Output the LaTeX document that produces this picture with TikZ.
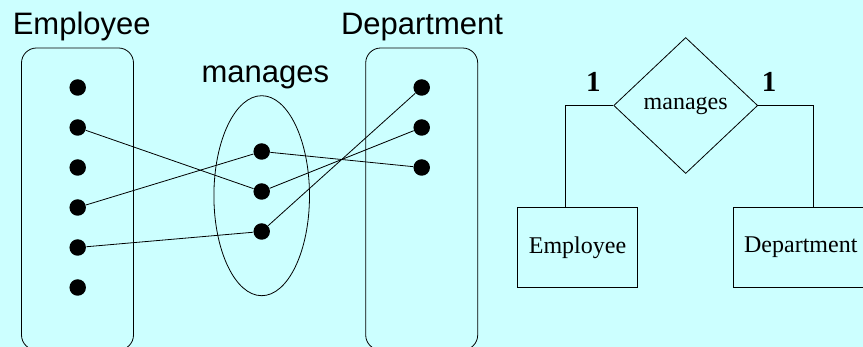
\documentclass[tikz,border=0pt]{standalone}
\usepackage{fontspec}
\setmainfont{Liberation Serif}
\newfontfamily\arialfont{Liberation Sans}
\usetikzlibrary{shapes.geometric}
\definecolor{bgcyan}{RGB}{204,255,255}

\begin{document}
\begin{tikzpicture}[x=1pt, y=-1pt, line width=0.8pt,
  elem/.style={circle, fill, inner sep=0pt, minimum size=16.5pt},
  setbox/.style={draw, rectangle, rounded corners=15pt, minimum width=112pt, minimum height=302pt},
  settitle/.style={anchor=base, font=\arialfont\fontsize{31}{36}\selectfont},
  entity/.style={draw, rectangle, minimum width=120pt, minimum height=80pt, font=\fontsize{24}{28}\selectfont},
  card/.style={font=\bfseries\fontsize{29}{32}\selectfont, inner sep=0pt}]

  \fill [bgcyan] (0,0) rectangle (863,347);
  \useasboundingbox (0,0) rectangle (863,347);

  % the two sets and the relationship set
  \node [setbox] (emps) at (77.5,199) {};
  \node [setbox] (depts) at (421.7,199) {};
  \node [draw, ellipse, minimum width=95.6pt, minimum height=200pt] (rel) at (261.7,195.7) {};
  \node [settitle] (empt) at (81.7,35) {Employee};
  \node [settitle] (deptt) at (422,35) {Department};
  \node [settitle] (relt) at (265.3,83) {manages};

  \node [elem] (e1) at (77.7,87.5) {};
  \node [elem] (e2) at (77.7,127.5) {};
  \node [elem] (e3) at (77.7,167.5) {};
  \node [elem] (e4) at (77.7,207.5) {};
  \node [elem] (e5) at (77.7,247.5) {};
  \node [elem] (e6) at (77.7,287.5) {};
  \node [elem] (m1) at (261.7,151.5) {};
  \node [elem] (m2) at (261.7,191.5) {};
  \node [elem] (m3) at (261.7,231.5) {};
  \node [elem] (d1) at (421.7,87.5) {};
  \node [elem] (d2) at (421.7,127.5) {};
  \node [elem] (d3) at (421.7,167.5) {};

  \path (e2) edge (m2)
        (e4) edge (m1)
        (e5) edge (m3)
        (m1) edge (d3)
        (m2) edge (d2)
        (m3) edge (d1);

  % E-R diagram
  \node [draw, diamond, minimum width=144pt, minimum height=136pt, inner sep=0pt,
         font=\fontsize{24}{28}\selectfont] (dia) at (685.7,105.5) {manages};
  \node [entity] (ement) at (577.5,247.3) {Employee};
  \node [entity, minimum width=135pt] (dent) at (800.8,247.3) {Department};
  \coordinate (lturn) at (565.7,105.5);
  \coordinate (rturn) at (813,105.5);

  \draw (dia.west) -- node [card, pos=0.42, above=14pt] {1} (lturn) -- (lturn |- ement.north);
  \draw (dia.east) -- node [card, pos=0.2, above=14pt] {1} (rturn) -- (rturn |- dent.north);
\end{tikzpicture}
\end{document}
